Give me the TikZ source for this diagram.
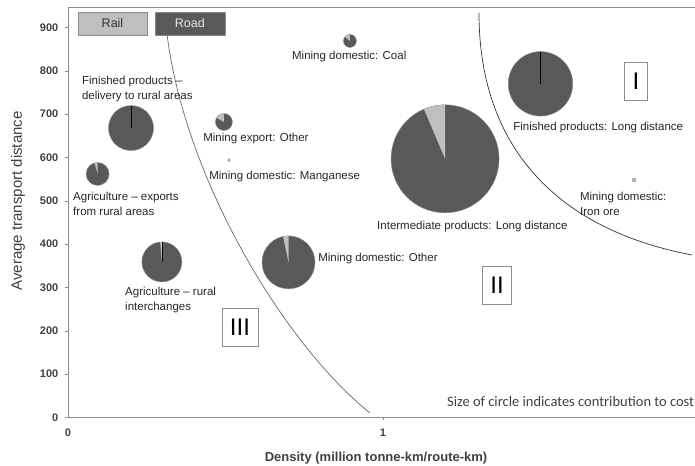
\documentclass[tikz,border=0pt]{standalone}
\usepackage{fontspec}
\setmainfont{Liberation Sans}
\newfontfamily\notefont{Carlito}
\definecolor{roadgray}{HTML}{595959}
\definecolor{railgray}{HTML}{BFBFBF}
\definecolor{axisgray}{HTML}{8C8C8C}
\definecolor{inkgray}{HTML}{404040}
\begin{document}
\begin{tikzpicture}[x=315pt,y=0.4333pt,
  pie/.style={circle,draw=axisgray,line width=0.4pt,fill=roadgray,inner sep=0pt},
  slice/.style={fill=railgray},
  split/.style={draw=black,line width=0.8pt},
  lbl/.style={anchor=west,inner sep=0pt,align=left,text=black!85,font=\fontsize{11.5}{15}\selectfont},
  zone/.style={draw=axisgray,inner sep=0pt,minimum height=38pt,font=\fontsize{24}{24}\selectfont},
  ticklbl/.style={inner sep=0pt,text=inkgray,font=\bfseries\fontsize{11}{11}\selectfont},
  legbox/.style={draw=axisgray,minimum width=69pt,minimum height=23pt,inner sep=0pt,font=\fontsize{12.5}{12.5}\selectfont}]
\useasboundingbox (-0.21587,-111.9) rectangle (1.99048,963.5);

% frame and axes
\draw[axisgray,line width=0.8pt] (1.9905,947.4) -- (0,947.4) -- (0,0) -- (1.9905,0);
\foreach \y in {0,100,...,900} {
  \draw[axisgray] (0,\y) -- ++(-3pt,0);
  \node[ticklbl,anchor=east] (ytick\y) at ([xshift=-9.5pt]0,\y) {\y};
}
\draw[axisgray] (1,0) -- ++(0,-3pt);
\node[ticklbl] (xtick0) at ([yshift=-15.5pt]0,0) {0};
\node[ticklbl] (xtick1) at ([yshift=-15.5pt]1,0) {1};
\node[rotate=90,text=inkgray,font=\fontsize{15}{15}\selectfont] (ylabel) at (-0.1587,500) {Average transport distance};
\node[text=inkgray,font=\bfseries\fontsize{13}{13}\selectfont] (xlabel) at (0.978,-93.5) {Density (million tonne-km/route-km)};

% legend
\node[legbox,fill=railgray,text=black!80] (rail) at (0.1413,909.4) {Rail};
\node[legbox,fill=roadgray,text=white!90!black,minimum width=70pt] (road) at (0.387,909.4) {Road};

% zone boundaries (drawn in page pixels)
\begin{scope}[x=1pt,y=-1pt,shift={(-68pt,417.5pt)}]
\draw[black!60,line width=0.7pt] (167,34) .. controls (185,180) and (285,345) .. (370,413);
\draw[black!80,line width=0.7pt] (479,13) .. controls (479,150) and (560,230) .. (692,255);
\end{scope}
\node[zone,minimum width=23pt] (zoneI) at (1.803,777) {I};
\node[zone,minimum width=29pt] (zoneII) at (1.362,306) {II};
\node[zone,minimum width=36pt] (zoneIII) at (0.546,209) {III};

% pies
\node[pie,minimum size=45pt] (fprural) at (0.200,668) {};
\draw[split] (fprural.center) -- ++(90:22.5pt);
\node[pie,minimum size=23pt] (agexport) at (0.094,562) {};
\fill[slice] (agexport.center) -- ++(90:11.5pt) arc[start angle=90,end angle=106,radius=11.5pt] -- cycle;
\node[pie,minimum size=17pt] (mnexport) at (0.495,682) {};
\fill[slice] (mnexport.center) -- ++(90:8.5pt) arc[start angle=90,end angle=150,radius=8.5pt] -- cycle;
\node[pie,fill=railgray,minimum size=3pt] (manganese) at (0.511,594) {};
\node[pie,minimum size=13pt] (coal) at (0.895,869) {};
\fill[slice] (coal.center) -- ++(90:6.5pt) arc[start angle=90,end angle=140,radius=6.5pt] -- cycle;
\node[pie,minimum size=108pt] (interlong) at (1.197,597) {};
\fill[slice] (interlong.center) -- ++(90:54pt) arc[start angle=90,end angle=113,radius=54pt] -- cycle;
\node[pie,minimum size=64.5pt] (fplong) at (1.500,770) {};
\draw[split] (fplong.center) -- ++(90:32.2pt);
\node[pie,fill=railgray,minimum size=4pt] (ironore) at (1.797,548) {};
\node[pie,minimum size=40pt] (agrural) at (0.298,359) {};
\fill[slice] (agrural.center) -- ++(90:20pt) arc[start angle=90,end angle=95,radius=20pt] -- cycle;
\draw[black] (agrural.center) -- ++(90:20pt);
\node[pie,minimum size=53pt] (mnother) at (0.700,358) {};
\fill[slice] (mnother.center) -- ++(90:26.5pt) arc[start angle=90,end angle=102,radius=26.5pt] -- cycle;

% labels
\node[lbl] (fpruralL) at (0.044,757) {Finished products --\\delivery to rural areas};
\node[lbl] (mnexportL) at (0.429,643) {Mining export: Other};
\node[lbl] (manganeseL) at (0.448,557) {Mining domestic: Manganese};
\node[lbl] (agexportL) at (0.016,492) {Agriculture -- exports\\from rural areas};
\node[lbl] (coalL) at (0.711,832) {Mining domestic: Coal};
\node[lbl] (fplongL) at (1.413,670) {Finished products: Long distance};
\node[lbl] (ironoreL) at (1.625,493) {Mining domestic:\\Iron ore};
\node[lbl] (interlongL) at (0.981,440) {Intermediate products: Long distance};
\node[lbl] (agruralL) at (0.181,270) {Agriculture -- rural\\interchanges};
\node[lbl] (mnotherL) at (0.794,368) {Mining domestic: Other};
\node[anchor=west,inner sep=0pt,text=inkgray,font=\notefont\fontsize{14.5}{14.5}\selectfont] (note) at (1.203,36.2) {Size of circle indicates contribution to cost};
\end{tikzpicture}
\end{document}
